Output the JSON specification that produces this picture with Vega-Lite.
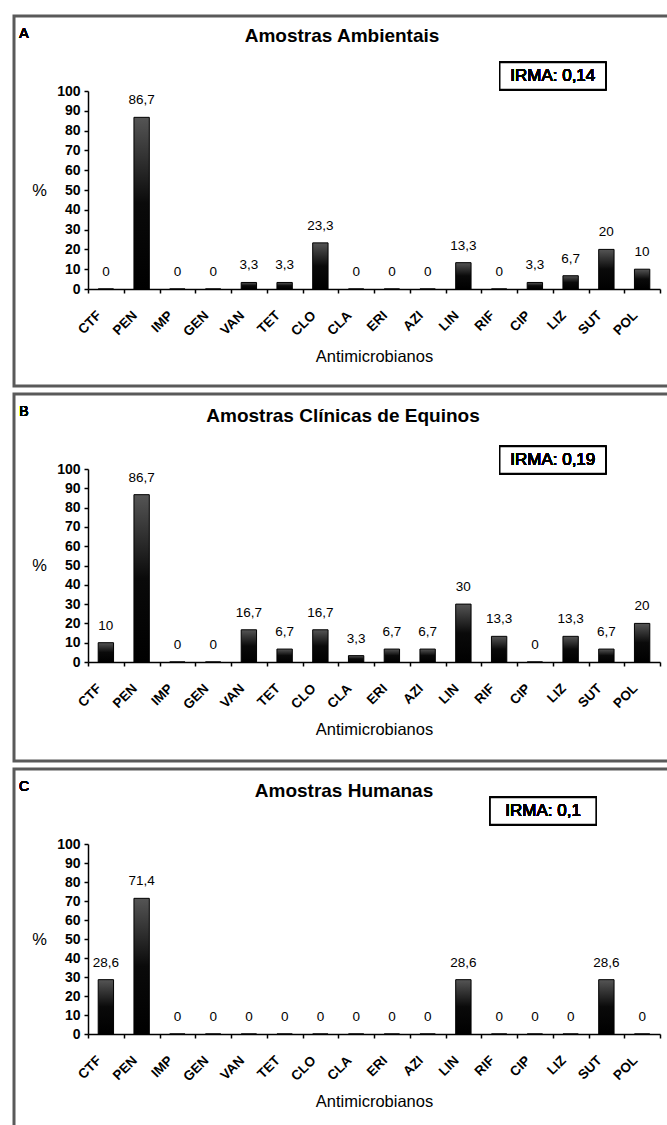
{
  "$schema": "https://vega.github.io/schema/vega-lite/v6.json",
  "background": "white",
  "padding": {"left": 12, "top": 14, "right": 0, "bottom": 0},
  "spacing": 8,
  "bounds": "flush",
  "data": {"values": [
    {"panel": "A", "drug": "CTF", "value": 0},
    {"panel": "A", "drug": "PEN", "value": 86.7},
    {"panel": "A", "drug": "IMP", "value": 0},
    {"panel": "A", "drug": "GEN", "value": 0},
    {"panel": "A", "drug": "VAN", "value": 3.3},
    {"panel": "A", "drug": "TET", "value": 3.3},
    {"panel": "A", "drug": "CLO", "value": 23.3},
    {"panel": "A", "drug": "CLA", "value": 0},
    {"panel": "A", "drug": "ERI", "value": 0},
    {"panel": "A", "drug": "AZI", "value": 0},
    {"panel": "A", "drug": "LIN", "value": 13.3},
    {"panel": "A", "drug": "RIF", "value": 0},
    {"panel": "A", "drug": "CIP", "value": 3.3},
    {"panel": "A", "drug": "LIZ", "value": 6.7},
    {"panel": "A", "drug": "SUT", "value": 20},
    {"panel": "A", "drug": "POL", "value": 10},
    {"panel": "B", "drug": "CTF", "value": 10},
    {"panel": "B", "drug": "PEN", "value": 86.7},
    {"panel": "B", "drug": "IMP", "value": 0},
    {"panel": "B", "drug": "GEN", "value": 0},
    {"panel": "B", "drug": "VAN", "value": 16.7},
    {"panel": "B", "drug": "TET", "value": 6.7},
    {"panel": "B", "drug": "CLO", "value": 16.7},
    {"panel": "B", "drug": "CLA", "value": 3.3},
    {"panel": "B", "drug": "ERI", "value": 6.7},
    {"panel": "B", "drug": "AZI", "value": 6.7},
    {"panel": "B", "drug": "LIN", "value": 30},
    {"panel": "B", "drug": "RIF", "value": 13.3},
    {"panel": "B", "drug": "CIP", "value": 0},
    {"panel": "B", "drug": "LIZ", "value": 13.3},
    {"panel": "B", "drug": "SUT", "value": 6.7},
    {"panel": "B", "drug": "POL", "value": 20},
    {"panel": "C", "drug": "CTF", "value": 28.6},
    {"panel": "C", "drug": "PEN", "value": 71.4},
    {"panel": "C", "drug": "IMP", "value": 0},
    {"panel": "C", "drug": "GEN", "value": 0},
    {"panel": "C", "drug": "VAN", "value": 0},
    {"panel": "C", "drug": "TET", "value": 0},
    {"panel": "C", "drug": "CLO", "value": 0},
    {"panel": "C", "drug": "CLA", "value": 0},
    {"panel": "C", "drug": "ERI", "value": 0},
    {"panel": "C", "drug": "AZI", "value": 0},
    {"panel": "C", "drug": "LIN", "value": 28.6},
    {"panel": "C", "drug": "RIF", "value": 0},
    {"panel": "C", "drug": "CIP", "value": 0},
    {"panel": "C", "drug": "LIZ", "value": 0},
    {"panel": "C", "drug": "SUT", "value": 28.6},
    {"panel": "C", "drug": "POL", "value": 0}
  ]},
  "vconcat": [
    {
      "width": 672, "height": 370,
      "title": {"text": "Amostras Ambientais", "frame": "group", "anchor": "middle", "offset": -38.5, "dx": -8, "baseline": "middle"},
      "transform": [{"filter": "datum.panel === 'A'"}],
      "layer": [
        {
          "mark": {"type": "bar", "width": {"band": 0.43}, "fill": {"gradient": "linear", "x1": 0, "y1": 0, "x2": 0, "y2": 1, "stops": [{"offset": 0, "color": "#555555"}, {"offset": 0.5, "color": "#0a0a0a"}, {"offset": 1, "color": "#000000"}]}, "stroke": "black", "strokeWidth": 1},
          "encoding": {
            "x": {"field": "drug", "type": "nominal", "scale": {"domain": ["CTF","PEN","IMP","GEN","VAN","TET","CLO","CLA","ERI","AZI","LIN","RIF","CIP","LIZ","SUT","POL"], "range": [74, 646], "paddingInner": 0, "paddingOuter": 0},
              "axis": {"title": "Antimicrobianos", "tickBand": "extent", "labelOffset": -12, "labelAngle": -45, "labelAlign": "right", "labelBaseline": "top", "labelPadding": 15, "labelOverlap": false, "offset": -97, "titleY": 67, "titleBaseline": "middle"}},
            "y": {"field": "value", "type": "quantitative", "scale": {"domain": [0, 100], "nice": false, "range": [273, 75]},
              "axis": {"values": [0,10,20,30,40,50,60,70,80,90,100], "tickCount": 11, "labelOverlap": false, "title": "%", "titleAngle": 0, "titleX": -49, "titleY": 174, "titleAlign": "center", "titleBaseline": "middle", "offset": -74, "labelPadding": 4}}
          }
        },
        {
          "mark": {"type": "text", "dy": -17, "baseline": "middle", "fontSize": 13.5, "fontWeight": "normal", "color": "black"},
          "encoding": {
            "x": {"field": "drug", "type": "nominal"},
            "y": {"field": "value", "type": "quantitative", "axis": {"values": [0,10,20,30,40,50,60,70,80,90,100], "tickCount": 11, "labelOverlap": false}},
            "text": {"field": "value", "type": "quantitative", "format": "~r"}
          }
        },
        {
          "mark": {"type": "text", "text": "A", "dx": -64, "align": "center", "baseline": "middle", "fontSize": 14, "fontWeight": "normal", "color": "black"},
          "encoding": {"x": {"datum": "CTF", "type": "nominal", "bandPosition": 0}, "y": {"datum": 128.8, "type": "quantitative"}}
        },
        {
          "mark": {"type": "point", "shape": "M-1,-0.255L1,-0.255L1,0.255L-1,0.255Z", "size": 11236, "filled": true, "fill": "white", "stroke": "black", "strokeWidth": 1.5, "opacity": 1},
          "encoding": {"x": {"datum": "LIZ", "type": "nominal", "bandPosition": 0}, "y": {"datum": 107.6, "type": "quantitative"}}
        },
        {
          "mark": {"type": "text", "text": "IRMA: 0,14", "align": "center", "baseline": "middle", "fontSize": 17, "fontWeight": "normal", "color": "black"},
          "encoding": {"x": {"datum": "LIZ", "type": "nominal", "bandPosition": 0}, "y": {"datum": 107.6, "type": "quantitative"}}
        }
      ]
    },
    {
      "width": 672, "height": 367,
      "title": {"text": "Amostras Clínicas de Equinos", "frame": "group", "anchor": "middle", "offset": -40.5, "dx": -7, "baseline": "middle"},
      "transform": [{"filter": "datum.panel === 'B'"}],
      "layer": [
        {
          "mark": {"type": "bar", "width": {"band": 0.43}, "fill": {"gradient": "linear", "x1": 0, "y1": 0, "x2": 0, "y2": 1, "stops": [{"offset": 0, "color": "#555555"}, {"offset": 0.5, "color": "#0a0a0a"}, {"offset": 1, "color": "#000000"}]}, "stroke": "black", "strokeWidth": 1},
          "encoding": {
            "x": {"field": "drug", "type": "nominal", "scale": {"domain": ["CTF","PEN","IMP","GEN","VAN","TET","CLO","CLA","ERI","AZI","LIN","RIF","CIP","LIZ","SUT","POL"], "range": [74, 646], "paddingInner": 0, "paddingOuter": 0},
              "axis": {"title": "Antimicrobianos", "tickBand": "extent", "labelOffset": -12, "labelAngle": -45, "labelAlign": "right", "labelBaseline": "top", "labelPadding": 15, "labelOverlap": false, "offset": -99, "titleY": 67, "titleBaseline": "middle"}},
            "y": {"field": "value", "type": "quantitative", "scale": {"domain": [0, 100], "nice": false, "range": [268, 75]},
              "axis": {"values": [0,10,20,30,40,50,60,70,80,90,100], "tickCount": 11, "labelOverlap": false, "title": "%", "titleAngle": 0, "titleX": -49, "titleY": 171.5, "titleAlign": "center", "titleBaseline": "middle", "offset": -74, "labelPadding": 4}}
          }
        },
        {
          "mark": {"type": "text", "dy": -17, "baseline": "middle", "fontSize": 13.5, "fontWeight": "normal", "color": "black"},
          "encoding": {
            "x": {"field": "drug", "type": "nominal"},
            "y": {"field": "value", "type": "quantitative", "axis": {"values": [0,10,20,30,40,50,60,70,80,90,100], "tickCount": 11, "labelOverlap": false}},
            "text": {"field": "value", "type": "quantitative", "format": "~r"}
          }
        },
        {
          "mark": {"type": "text", "text": "B", "dx": -64, "align": "center", "baseline": "middle", "fontSize": 14, "fontWeight": "normal", "color": "black"},
          "encoding": {"x": {"datum": "CTF", "type": "nominal", "bandPosition": 0}, "y": {"datum": 129.5, "type": "quantitative"}}
        },
        {
          "mark": {"type": "point", "shape": "M-1,-0.255L1,-0.255L1,0.255L-1,0.255Z", "size": 11236, "filled": true, "fill": "white", "stroke": "black", "strokeWidth": 1.5, "opacity": 1},
          "encoding": {"x": {"datum": "LIZ", "type": "nominal", "bandPosition": 0}, "y": {"datum": 104.7, "type": "quantitative"}}
        },
        {
          "mark": {"type": "text", "text": "IRMA: 0,19", "align": "center", "baseline": "middle", "fontSize": 17, "fontWeight": "normal", "color": "black"},
          "encoding": {"x": {"datum": "LIZ", "type": "nominal", "bandPosition": 0}, "y": {"datum": 104.7, "type": "quantitative"}}
        }
      ]
    },
    {
      "width": 672, "height": 362,
      "title": {"text": "Amostras Humanas", "frame": "group", "anchor": "middle", "offset": -40.5, "dx": -6, "baseline": "middle"},
      "transform": [{"filter": "datum.panel === 'C'"}],
      "layer": [
        {
          "mark": {"type": "bar", "width": {"band": 0.43}, "fill": {"gradient": "linear", "x1": 0, "y1": 0, "x2": 0, "y2": 1, "stops": [{"offset": 0, "color": "#555555"}, {"offset": 0.5, "color": "#0a0a0a"}, {"offset": 1, "color": "#000000"}]}, "stroke": "black", "strokeWidth": 1},
          "encoding": {
            "x": {"field": "drug", "type": "nominal", "scale": {"domain": ["CTF","PEN","IMP","GEN","VAN","TET","CLO","CLA","ERI","AZI","LIN","RIF","CIP","LIZ","SUT","POL"], "range": [74, 646], "paddingInner": 0, "paddingOuter": 0},
              "axis": {"title": "Antimicrobianos", "tickBand": "extent", "labelOffset": -12, "labelAngle": -45, "labelAlign": "right", "labelBaseline": "top", "labelPadding": 15, "labelOverlap": false, "offset": -97, "titleY": 67, "titleBaseline": "middle"}},
            "y": {"field": "value", "type": "quantitative", "scale": {"domain": [0, 100], "nice": false, "range": [265, 75]},
              "axis": {"values": [0,10,20,30,40,50,60,70,80,90,100], "tickCount": 11, "labelOverlap": false, "title": "%", "titleAngle": 0, "titleX": -49, "titleY": 170, "titleAlign": "center", "titleBaseline": "middle", "offset": -74, "labelPadding": 4}}
          }
        },
        {
          "mark": {"type": "text", "dy": -17, "baseline": "middle", "fontSize": 13.5, "fontWeight": "normal", "color": "black"},
          "encoding": {
            "x": {"field": "drug", "type": "nominal"},
            "y": {"field": "value", "type": "quantitative", "axis": {"values": [0,10,20,30,40,50,60,70,80,90,100], "tickCount": 11, "labelOverlap": false}},
            "text": {"field": "value", "type": "quantitative", "format": "~r"}
          }
        },
        {
          "mark": {"type": "text", "text": "C", "dx": -64, "align": "center", "baseline": "middle", "fontSize": 14, "fontWeight": "normal", "color": "black"},
          "encoding": {"x": {"datum": "CTF", "type": "nominal", "bandPosition": 0}, "y": {"datum": 130, "type": "quantitative"}}
        },
        {
          "mark": {"type": "point", "shape": "M-1,-0.255L1,-0.255L1,0.255L-1,0.255Z", "size": 11236, "filled": true, "fill": "white", "stroke": "black", "strokeWidth": 1.5, "opacity": 1},
          "encoding": {"x": {"datum": "CIP", "type": "nominal", "bandPosition": 0.73}, "y": {"datum": 117.4, "type": "quantitative"}}
        },
        {
          "mark": {"type": "text", "text": "IRMA: 0,1", "align": "center", "baseline": "middle", "fontSize": 17, "fontWeight": "normal", "color": "black"},
          "encoding": {"x": {"datum": "CIP", "type": "nominal", "bandPosition": 0.73}, "y": {"datum": 117.4, "type": "quantitative"}}
        }
      ]
    }
  ],
  "config": {
    "locale": {"number": {"decimal": ",", "thousands": ".", "grouping": [3], "currency": ["", ""]}},
    "font": "Liberation Sans",
    "view": {"stroke": "#5a5a5a", "strokeWidth": 3},
    "title": {"font": "Liberation Sans", "fontSize": 19, "fontWeight": "bold", "color": "black"},
    "text": {"font": "Liberation Sans"},
    "axis": {"grid": false, "labelFont": "Liberation Sans", "labelFontWeight": "bold", "labelFontSize": 13.5, "labelColor": "black", "titleFont": "Liberation Sans", "titleFontWeight": "normal", "titleFontSize": 16.5, "titleColor": "black", "domainColor": "black", "domainWidth": 1.5, "tickColor": "black", "tickWidth": 1.5, "tickSize": 4},
    "axisY": {"labelFontSize": 14}
  }
}
